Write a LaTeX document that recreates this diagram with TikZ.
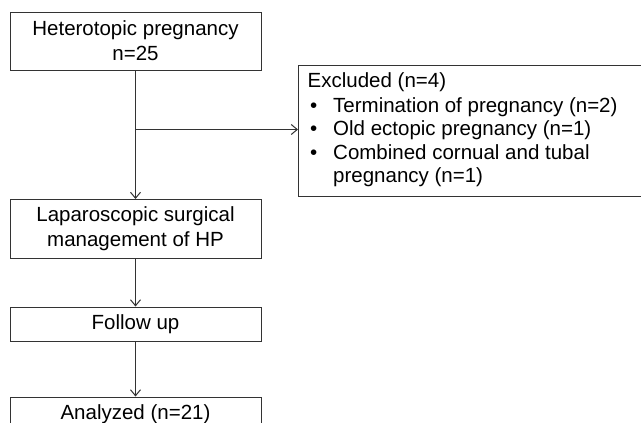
\documentclass[tikz,border=0pt]{standalone}
\usepackage{fontspec}
\setmainfont{Liberation Sans}
\usetikzlibrary{arrows.meta}
\begin{document}
\begin{tikzpicture}[x=1pt,y=-1pt,
  box/.style={draw=black!80, line width=1pt, minimum width=251pt, inner sep=0pt, align=center,
    font=\fontsize{20.5}{25}\selectfont},
  txt/.style={anchor=base west, inner sep=0pt, font=\fontsize{20.5}{25}\selectfont},
  conn/.style={draw=black!80, line width=1pt, -{Straight Barb[length=6pt,width=10pt]}}]
\useasboundingbox (0,0) rectangle (641,423);
\clip (0,0) rectangle (641,423);
\node[box, minimum height=58pt] (hp) at (135.5,41) {Heterotopic pregnancy\\n=25};
\node[box, minimum height=58.5pt] (lap) at (135.5,228.75) {Laparoscopic surgical\\management of HP};
\node[box, minimum height=34pt] (fu) at (135.5,324) {Follow up};
\node[box, minimum height=34pt] (an) at (135.5,414) {Analyzed (n=21)};
\node[draw=black!80, line width=1pt, anchor=north west, minimum width=360pt, minimum height=131pt, inner sep=0pt] (ex) at (298,65) {};
\node[txt] (e0) at (307.5,87.5) {Excluded (n=4)};
\node[txt] (b1) at (310,112.5) {•};
\node[txt] (e1) at (333,112.5) {Termination of pregnancy (n=2)};
\node[txt] (b2) at (310,135.8) {•};
\node[txt] (e2) at (333,135.8) {Old ectopic pregnancy (n=1)};
\node[txt] (b3) at (310,159.2) {•};
\node[txt] (e3) at (333,159.2) {Combined cornual and tubal};
\node[txt] (e4) at (333,182.6) {pregnancy (n=1)};
\coordinate (br) at (135.5,129.5);
\draw[conn] (hp) -- (lap);
\draw[conn] (lap) -- (fu);
\draw[conn] (fu) -- (an);
\draw[conn] (br) -- (ex.west |- br);
\end{tikzpicture}
\end{document}
